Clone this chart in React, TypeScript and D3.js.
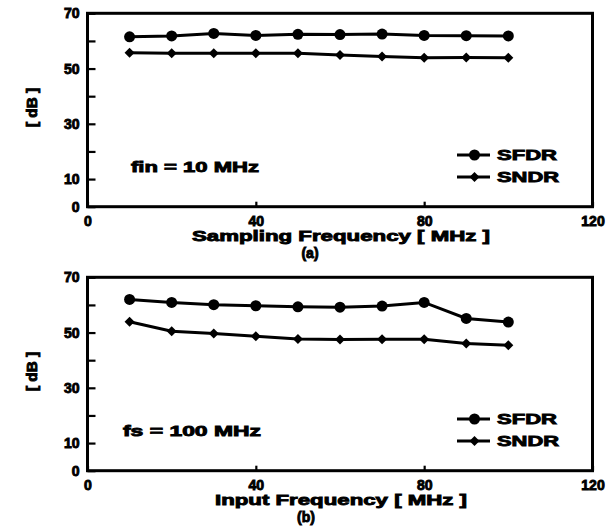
import React, { useEffect, useRef } from "react";
import * as d3 from "d3";

// values
const freq = [10, 20, 30, 40, 50, 60, 70, 80, 90, 100];
const sfdrA = [61.5, 61.8, 62.7, 62.0, 62.4, 62.3, 62.5, 62.0, 61.9, 61.8];
const sndrA = [55.7, 55.5, 55.5, 55.5, 55.5, 54.9, 54.4, 53.9, 54.0, 53.9];
const sfdrB = [62.0, 60.9, 60.1, 59.7, 59.3, 59.2, 59.6, 60.9, 55.1, 53.8];
const sndrB = [53.9, 50.5, 49.7, 48.7, 47.7, 47.5, 47.6, 47.6, 46.0, 45.4];
const yTicks = [0, 10, 20, 30, 40, 50, 60, 70];
const yTickLabels = [0, 10, 30, 50, 70];
const xTickLabels = [0, 40, 80, 120];

const W = 616;
const H = 528;
const FONT = "'Liberation Sans', Arial, sans-serif";

const panels = [
  {
    top: 0,
    sfdr: sfdrA,
    sndr: sndrA,
    xTitle: "Sampling Frequency [ MHz ]",
    xTitleLen: 298,
    note: "fin = 10 MHz",
    noteX: 131,
    noteLen: 128,
    letter: "(a)",
    letterX: 310,
  },
  {
    top: 264,
    sfdr: sfdrB,
    sndr: sndrB,
    xTitle: "Input Frequency [ MHz ]",
    xTitleLen: 252,
    note: "fs = 100 MHz",
    noteX: 123,
    noteLen: 138,
    letter: "(b)",
    letterX: 306,
  },
];

const x = d3.scaleLinear().domain([0, 120]).range([87.5, 592.5]);

const diamond = (cx: number, cy: number, r: number) => {
  const p = d3.path();
  p.moveTo(cx, cy - r);
  p.lineTo(cx + r, cy);
  p.lineTo(cx, cy + r);
  p.lineTo(cx - r, cy);
  p.closePath();
  return p.toString();
};

const Panel = ({ p }: { p: (typeof panels)[number] }) => {
  const yAxisRef = useRef<SVGGElement>(null);
  const xAxisRef = useRef<SVGGElement>(null);
  const y = d3
    .scaleLinear()
    .domain([0, 70])
    .range([p.top + 206.7, p.top + 13.3]);

  useEffect(() => {
    const ya = d3.select(yAxisRef.current);
    ya.call(
      d3
        .axisLeft(y)
        .tickValues(yTicks)
        .tickSizeInner(-8)
        .tickSizeOuter(0)
        .tickPadding(8)
        .tickFormat((d) => (yTickLabels.includes(+d) ? String(d) : ""))
    );
    ya.select(".domain").remove();
    ya.selectAll("line").attr("stroke", "#000").attr("stroke-width", 2.2);
    ya.selectAll("text")
      .attr("font-family", FONT)
      .attr("font-weight", "bold")
      .attr("font-size", 14)
      .attr("fill", "#000")
      .attr("stroke", "#000")
      .attr("stroke-width", 0.9);

    const xa = d3.select(xAxisRef.current);
    xa.call(
      d3
        .axisBottom(x)
        .tickValues(xTickLabels)
        .tickSizeInner(-5)
        .tickSizeOuter(0)
        .tickPadding(9)
    );
    xa.select(".domain").remove();
    xa.selectAll("line").attr("stroke", "#000").attr("stroke-width", 2.2);
    xa.selectAll("text")
      .attr("font-family", FONT)
      .attr("font-weight", "bold")
      .attr("font-size", 14)
      .attr("fill", "#000")
      .attr("stroke", "#000")
      .attr("stroke-width", 0.9);
  }, [p]);

  const line = d3
    .line<number>()
    .x((_, i) => x(freq[i]))
    .y((d) => y(d));

  const txt = {
    fontFamily: FONT,
    fontWeight: "bold" as const,
    fill: "#000",
    stroke: "#000",
    strokeWidth: 0.9,
  };

  const legY1 = p.top + 155;
  const legY2 = p.top + 177;

  return (
    <g>
      <rect
        x={x(0)}
        y={y(70)}
        width={x(120) - x(0)}
        height={y(0) - y(70)}
        fill="none"
        stroke="#000"
        strokeWidth={3}
      />
      <g ref={yAxisRef} transform={`translate(${x(0)},0)`} />
      <g ref={xAxisRef} transform={`translate(0,${y(0)})`} />

      <path d={line(p.sfdr) || ""} fill="none" stroke="#000" strokeWidth={3} />
      <path d={line(p.sndr) || ""} fill="none" stroke="#000" strokeWidth={3} />
      {p.sfdr.map((v, i) => (
        <circle key={"c" + i} cx={x(freq[i])} cy={y(v)} r={5.5} fill="#000" />
      ))}
      {p.sndr.map((v, i) => (
        <path key={"d" + i} d={diamond(x(freq[i]), y(v), 5)} fill="#000" />
      ))}

      {/* legend */}
      <line x1={457} x2={490} y1={legY1} y2={legY1} stroke="#000" strokeWidth={3} />
      <circle cx={474.5} cy={legY1} r={5.5} fill="#000" />
      <text {...txt} x={497} y={legY1} dy="0.36em" fontSize={15} textLength={60} lengthAdjust="spacingAndGlyphs">
        SFDR
      </text>
      <line x1={457} x2={490} y1={legY2} y2={legY2} stroke="#000" strokeWidth={3} />
      <path d={diamond(474.5, legY2, 5)} fill="#000" />
      <text {...txt} x={497} y={legY2} dy="0.36em" fontSize={15} textLength={62} lengthAdjust="spacingAndGlyphs">
        SNDR
      </text>

      <text {...txt} x={p.noteX} y={p.top + 166.5} dy="0.36em" fontSize={15} textLength={p.noteLen} lengthAdjust="spacingAndGlyphs">
        {p.note}
      </text>

      <text
        {...txt}
        transform={`translate(31.5,${p.top + 107.5}) rotate(-90)`}
        textAnchor="middle"
        dy="0.36em"
        fontSize={14}
        textLength={39}
        lengthAdjust="spacingAndGlyphs"
      >
        [ dB ]
      </text>

      <text
        {...txt}
        x={x(60) - p.xTitleLen / 2 + 1}
        y={p.top + 236}
        dy="0.36em"
        fontSize={15}
        textLength={p.xTitleLen}
        lengthAdjust="spacingAndGlyphs"
      >
        {p.xTitle}
      </text>
      <text {...txt} x={p.letterX} y={p.top + 253} dy="0.36em" fontSize={14} textAnchor="middle">
        {p.letter}
      </text>
    </g>
  );
};

export default function App() {
  return (
    <svg
      width={W}
      height={H}
      viewBox={`0 0 ${W} ${H}`}
      style={{ position: "absolute", left: 0, top: 0, background: "#fff" }}
    >
      <rect width={W} height={H} fill="#fff" />
      {panels.map((p) => (
        <Panel key={p.letter} p={p} />
      ))}
    </svg>
  );
}
